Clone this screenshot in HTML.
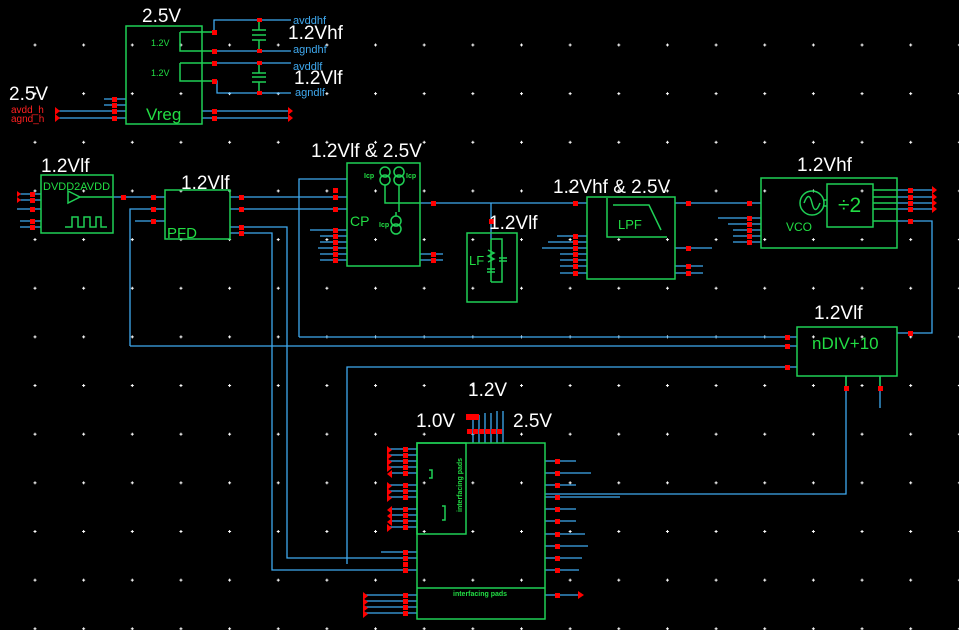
<!DOCTYPE html>
<html><head><meta charset="utf-8"><style>
html,body{margin:0;padding:0;background:#000;}
svg{display:block;}
text{font-family:"Liberation Sans",sans-serif;}
.w{fill:#fff;font-size:19px;}
.g{fill:#22dd44;}
</style></head><body>
<svg width="959" height="630" viewBox="0 0 959 630" xmlns="http://www.w3.org/2000/svg">
<defs>
<pattern id="grid" x="33.5" y="43.5" width="48.65" height="48.65" patternUnits="userSpaceOnUse">
<path d="M1.5 0V3M0 1.5H3" stroke="#fff" stroke-width="1"/>
</pattern>
</defs>
<rect width="959" height="630" fill="#000"/>
<rect width="959" height="630" fill="url(#grid)"/>

<g stroke="#3fa9ef" stroke-width="1.3" fill="none">
<path d="M104 99H126M104 105H126M58 111H126M58 118H126M202 111H291M202 118H291"/>
<path d="M214 32V20H291M214 51H291M214 63H291M214 81H217V93H291"/>
<path d="M17 194H41M17 200H41M17 209H41M20 221H41M20 227H41M113 197H165"/>
<path d="M130 346V209H165M135 221H165M230 197H347M230 209H347M230 227H287V558H417M230 233H272V570H417"/>
<path d="M299 337V179H347M130 346H797M299 337H797M347 564V367H797"/>
<path d="M420 203H587M491 203V239M310 230H347M320 236H347M320 242H347M318 248H347M320 254H347M320 260H347M420 254H443M420 260H443"/>
<path d="M557 236H587M548 242H587M542 248H587M560 254H587M560 260H587M560 266H587M560 273H587M675 248H712M675 266H703M675 273H703"/>
<path d="M675 203H761M718 218H761M728 224H761M733 230H761M733 236H761M733 242H761"/>
<path d="M897 190H935M897 197H935M897 203H935M897 209H935M897 221H932V333H897"/>
<path d="M846 376V494H545M880 376V408"/>
<path d="M473 415V443M479 415V443M485 413V443M491 413V443M497 411V443M503 411V443"/>
<path d="M390 449H417M390 455H417M390 461H417M390 467H417M390 473H417M390 485H417M390 491H417M390 497H417M390 509H417M390 515H417M390 521H417M390 527H417M381 552H417"/>
<path d="M365 595H417M365 601H417M365 607H417M365 613H417"/>
<path d="M545 461H576M545 473H591M545 485H576M545 497H620M545 509H576M545 521H576M545 534H585M545 546H588M545 558H582M545 570H579M545 595H580"/>
</g>

<g stroke="#1fcf55" stroke-width="1.5" fill="none">
<rect x="126" y="26" width="76" height="98"/>
<path d="M180 32H202M180 32V51H214M180 63H202M180 63V81H214M202 32H214M202 51H214M202 63H214"/>
<path d="M259 20V30M259 40V51M252 30H266M252 35H266M252 40H266M259 63V73M259 82V93M252 73H266M252 77H266M252 82H266"/>
<rect x="41" y="175" width="72" height="58"/>
<path d="M68 191L80 197L68 203Z M80 197H113"/>
<path d="M65 227H72V217H78V227H84V217H90V227H96V217H101V227H107"/>
<rect x="165" y="190" width="65" height="49"/>
<rect x="347" y="163" width="73" height="103"/>
<circle cx="385" cy="172" r="5"/><circle cx="385" cy="180" r="5"/>
<circle cx="399" cy="172" r="5"/><circle cx="399" cy="180" r="5"/>
<circle cx="396" cy="221" r="5"/><circle cx="396" cy="229" r="5"/>
<path d="M385 185V203H420M399 185V212M396 212V216"/>
<rect x="467" y="233" width="50" height="69"/>
<path d="M491 239H502V282H491M491 239V282M488 250L494 253L488 256L494 259L488 262M487 269H495M487 272H495M499 258H507M499 261H507"/>
<rect x="587" y="197" width="88" height="82"/>
<path d="M607 198V237H667M613 205H649L661 230"/>
<rect x="761" y="178" width="136" height="70"/>
<circle cx="812" cy="203" r="12"/>
<path d="M804 203Q809 190 812 203T820 203M824 200H827M824 206H827"/>
<rect x="827" y="184" width="46" height="43"/>
<path d="M873 190H897M873 197H897M873 203H897M873 209H897M873 221H897"/>
<rect x="797" y="327" width="100" height="49"/>
<path d="M846 376V388M880 376V388"/>
<rect x="417" y="443" width="128" height="176"/>
<rect x="417" y="443" width="49" height="91"/>
<path d="M417 588H545M429 470H432V478H429M442 506H445V520H442"/>
</g>

<g fill="#ff0000">
<path d="M112 97h5v5h-5zM112 103h5v5h-5zM112 109h5v5h-5zM112 116h5v5h-5zM212 109h5v5h-5zM212 116h5v5h-5zM212 30h5v5h-5zM212 49h5v5h-5zM212 61h5v5h-5zM212 79h5v5h-5zM257 18h5v4h-5zM257 49h5v4h-5zM257 61h5v4h-5zM257 91h5v4h-5z"/>
<path d="M55 107l5 4-5 4zM55 114l5 4-5 4zM288 107l5 4-5 4zM288 114l5 4-5 4z"/>
<path d="M17 191l4 3-4 3zM17 197l4 3-4 3zM30 192h5v5h-5zM30 198h5v5h-5zM30 207h5v5h-5zM30 219h5v5h-5zM30 225h5v5h-5zM121 195h5v5h-5zM151 195h5v5h-5zM151 207h5v5h-5zM151 219h5v5h-5zM239 195h5v5h-5zM239 207h5v5h-5zM239 225h5v5h-5zM239 231h5v5h-5z"/>
<path d="M333 188h5v5h-5zM333 195h5v5h-5zM333 207h5v5h-5zM333 228h5v5h-5zM333 234h5v5h-5zM333 240h5v5h-5zM333 246h5v5h-5zM333 252h5v5h-5zM333 258h5v5h-5zM431 201h5v5h-5zM431 252h5v5h-5zM431 258h5v5h-5zM489 219h5v5h-5zM573 201h5v5h-5zM573 234h5v5h-5zM573 240h5v5h-5zM573 246h5v5h-5zM573 252h5v5h-5zM573 258h5v5h-5zM573 264h5v5h-5zM573 271h5v5h-5z"/>
<path d="M686 201h5v5h-5zM686 246h5v5h-5zM686 264h5v5h-5zM686 271h5v5h-5zM747 201h5v5h-5zM747 216h5v5h-5zM747 222h5v5h-5zM747 228h5v5h-5zM747 234h5v5h-5zM747 240h5v5h-5zM908 188h5v5h-5zM908 195h5v5h-5zM908 201h5v5h-5zM908 207h5v5h-5zM908 219h5v5h-5zM908 331h5v5h-5z"/>
<path d="M932 186l5 4-5 4zM932 193l5 4-5 4zM932 199l5 4-5 4zM932 205l5 4-5 4z"/>
<path d="M785 335h5v5h-5zM785 344h5v5h-5zM785 365h5v5h-5zM844 386h5v5h-5zM878 386h5v5h-5z"/>
<path d="M466 414h13v6h-13zM467 429h5v5h-5zM473 429h5v5h-5zM479 429h5v5h-5zM485 429h5v5h-5zM491 429h5v5h-5zM497 429h5v5h-5z"/>
<path d="M403 447h5v5h-5zM403 453h5v5h-5zM403 459h5v5h-5zM403 465h5v5h-5zM403 471h5v5h-5zM403 483h5v5h-5zM403 489h5v5h-5zM403 495h5v5h-5zM403 507h5v5h-5zM403 513h5v5h-5zM403 519h5v5h-5zM403 525h5v5h-5zM403 550h5v5h-5zM403 556h5v5h-5zM403 562h5v5h-5zM403 568h5v5h-5zM403 593h5v5h-5zM403 599h5v5h-5zM403 605h5v5h-5zM403 611h5v5h-5z"/>
<path d="M387 446l5 4-5 4zM387 452l5 4-5 4zM387 458l5 4-5 4zM387 464l5 4-5 4zM392 470l-5 4 5 4zM387 482l5 4-5 4zM387 488l5 4-5 4zM387 494l5 4-5 4zM392 506l-5 4 5 4zM392 512l-5 4 5 4zM392 518l-5 4 5 4zM387 524l5 4-5 4zM363 592l5 4-5 4zM363 598l5 4-5 4zM363 604l5 4-5 4zM363 610l5 4-5 4z"/>
<path d="M555 459h5v5h-5zM555 471h5v5h-5zM555 483h5v5h-5zM555 495h5v5h-5zM555 507h5v5h-5zM555 519h5v5h-5zM555 532h5v5h-5zM555 544h5v5h-5zM555 556h5v5h-5zM555 568h5v5h-5zM555 593h5v5h-5zM578 591l6 4-6 4z"/>
</g>

<text class="w" x="142" y="22">2.5V</text>
<text class="w" x="9" y="100">2.5V</text>
<text x="11" y="113" fill="#ff2020" font-size="10">avdd_h</text>
<text x="11" y="122" fill="#ff2020" font-size="10">agnd_h</text>
<text x="151" y="46" class="g" font-size="9">1.2V</text>
<text x="151" y="76" class="g" font-size="9">1.2V</text>
<text x="146" y="120" class="g" font-size="17">Vreg</text>
<text x="293" y="24" fill="#3fa9ef" font-size="11">avddhf</text>
<text x="293" y="53" fill="#3fa9ef" font-size="11">agndhf</text>
<text x="293" y="70" fill="#3fa9ef" font-size="11">avddlf</text>
<text x="295" y="96" fill="#3fa9ef" font-size="11">agndlf</text>
<text class="w" x="288" y="39">1.2Vhf</text>
<text class="w" x="294" y="84">1.2Vlf</text>
<text class="w" x="41" y="172">1.2Vlf</text>
<text class="g" x="43" y="190" font-size="11">DVDD2AVDD</text>
<text class="w" x="181" y="189">1.2Vlf</text>
<text class="g" x="167" y="238" font-size="15">PFD</text>
<text class="w" x="311" y="157">1.2Vlf &amp; 2.5V</text>
<text class="g" x="350" y="226" font-size="14">CP</text>
<text class="g" x="364" y="178" font-size="7" font-weight="bold">Icp</text>
<text class="g" x="406" y="178" font-size="7" font-weight="bold">Icp</text>
<text class="g" x="379" y="227" font-size="7" font-weight="bold">Icp</text>
<text class="w" x="489" y="229">1.2Vlf</text>
<text class="g" x="469" y="265" font-size="13">LF</text>
<text class="w" x="553" y="193">1.2Vhf &amp; 2.5V</text>
<text class="g" x="618" y="229" font-size="13">LPF</text>
<text class="w" x="797" y="171">1.2Vhf</text>
<text class="g" x="786" y="231" font-size="12">VCO</text>
<text class="g" x="838" y="212" font-size="21">÷2</text>
<text class="w" x="814" y="319">1.2Vlf</text>
<text class="g" x="812" y="349" font-size="17">nDIV+10</text>
<text class="w" x="468" y="396">1.2V</text>
<text class="w" x="416" y="427">1.0V</text>
<text class="w" x="513" y="427">2.5V</text>
<text class="g" x="453" y="596" font-size="7" font-weight="bold">interfacing pads</text>
<text class="g" font-size="7" font-weight="bold" transform="translate(462,512) rotate(-90)">interfacing pads</text>
</svg>
</body></html>
